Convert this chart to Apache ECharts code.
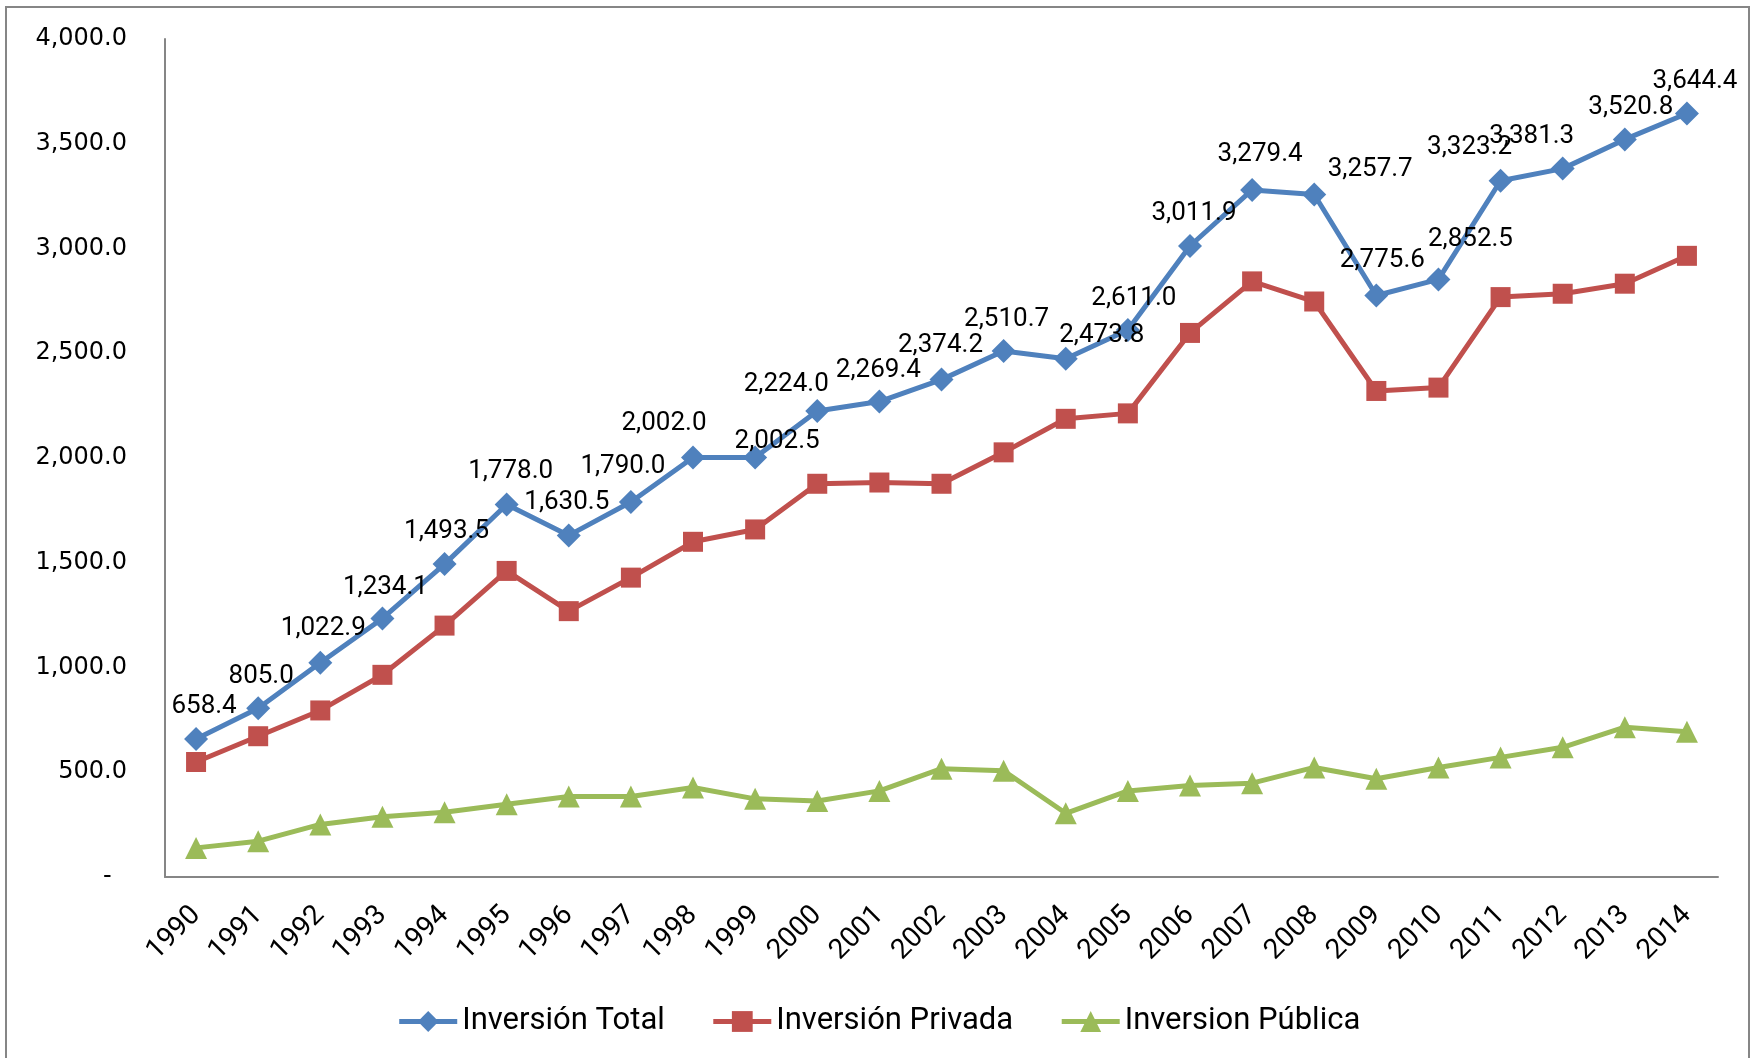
<!DOCTYPE html>
<html>
<head>
<meta charset="utf-8">
<title>Inversión 1990-2014</title>
<script src="https://cdn.jsdelivr.net/npm/echarts@6/dist/echarts.min.js"></script>
<style>
  html, body { margin: 0; padding: 0; background: #fff; }
  #chart { width: 1757px; height: 1058px; }
</style>
</head>
<body>
<div id="chart"></div>
<script>
// años
const years = ['1990', '1991', '1992', '1993', '1994', '1995', '1996', '1997', '1998', '1999',
  '2000', '2001', '2002', '2003', '2004', '2005', '2006', '2007', '2008', '2009',
  '2010', '2011', '2012', '2013', '2014']

// series
const inversionTotal = [658.4, 805.0, 1022.9, 1234.1, 1493.5, 1778.0, 1630.5, 1790.0, 2002.0, 2002.5,
  2224.0, 2269.4, 2374.2, 2510.7, 2473.8, 2611.0, 3011.9, 3279.4, 3257.7, 2775.6,
  2852.5, 3323.2, 3381.3, 3520.8, 3644.4]
const inversionPrivada = [549, 672, 795, 965, 1200, 1461, 1269, 1429, 1600, 1659,
  1877, 1883, 1877, 2027, 2187, 2213, 2597, 2843, 2747, 2320,
  2336, 2768, 2784, 2832, 2965]
const inversionPublica = [139, 171, 251, 288, 309, 347, 384, 384, 427, 373,
  363, 411, 517, 507, 304, 411, 437, 448, 523, 469,
  523, 571, 619, 715, 693]

// ticks del eje y
const yTicks = [0, 500, 1000, 1500, 2000, 2500, 3000, 3500, 4000]

// desplazamiento de las etiquetas (px) como en el original
const labelShift = [[8, 0], [3, 1], [3, -1], [3, 2], [2, 0], [4, 0], [-2, 0], [-8, -2], [-29, -1], [22, 17],
  [-31, 6], [-1, 2], [-1, -1], [3, 1], [36, 10], [6, 2], [4, 0], [8, -2], [56, 8], [6, -2],
  [32, -7], [-31, 0], [-31, 1], [6, 1], [8, 1]]

const labelFont = "Roboto, 'Liberation Sans Narrow', sans-serif"

// formato 1,234.5
const fmt = (v) => {
  const parts = v.toFixed(1).split('.')
  parts[0] = parts[0].replace(/\B(?=(\d{3})+(?!\d))/g, ',')
  return parts.join('.')
}

const chart = echarts.init(document.getElementById('chart'))

const option = {
  backgroundColor: '#fff',
  animation: false,
  graphic: [{
    type: 'rect',
    shape: { x: 6, y: 7, width: 1743, height: 1070 },
    style: { fill: 'none', stroke: '#868686', lineWidth: 2 },
    silent: true
  }],
  grid: { left: 165, right: 39, top: 39, bottom: 181 },
  legend: {
    bottom: 16,
    left: 'center',
    itemWidth: 58,
    itemHeight: 26,
    itemGap: 46,
    lineStyle: { width: 5 },
    textStyle: { fontFamily: labelFont, fontSize: 31, color: '#000' },
    data: ['Inversión Total', 'Inversión Privada', 'Inversion Pública']
  },
  xAxis: {
    type: 'category',
    data: years,
    axisLine: { lineStyle: { color: '#868686', width: 2 } },
    axisTick: { show: false },
    axisLabel: {
      rotate: 45,
      margin: 34,
      fontFamily: labelFont,
      fontSize: 28,
      color: '#000'
    }
  },
  yAxis: {
    type: 'value',
    min: yTicks[0],
    max: yTicks[yTicks.length - 1],
    interval: 500,
    splitLine: { show: false },
    axisLine: { show: true, lineStyle: { color: '#868686', width: 2 } },
    axisTick: { show: false },
    axisLabel: {
      margin: 38,
      fontFamily: "'DejaVu Sans', sans-serif",
      fontSize: 24,
      color: '#000',
      formatter: (v) => v === 0 ? '-  ' : fmt(v)
    }
  },
  series: [
    {
      name: 'Inversión Total',
      type: 'line',
      data: inversionTotal.map((v, i) => ({ value: v, label: { offset: labelShift[i] } })),
      symbol: 'diamond',
      symbolSize: 24,
      z: 4,
      lineStyle: { color: '#4F81BD', width: 5 },
      itemStyle: { color: '#4F81BD' },
      label: {
        show: true,
        position: 'top',
        distance: 8,
        fontFamily: labelFont,
        fontSize: 26,
        color: '#000',
        formatter: (p) => fmt(p.value)
      }
    },
    {
      name: 'Inversión Privada',
      type: 'line',
      data: inversionPrivada,
      symbol: 'rect',
      symbolSize: 20,
      z: 3,
      lineStyle: { color: '#C0504D', width: 5 },
      itemStyle: { color: '#C0504D' }
    },
    {
      name: 'Inversion Pública',
      type: 'line',
      data: inversionPublica,
      symbol: 'triangle',
      symbolSize: 22,
      z: 2,
      lineStyle: { color: '#9BBB59', width: 5 },
      itemStyle: { color: '#9BBB59' }
    }
  ]
}

chart.setOption(option)
window.addEventListener('resize', function () {
  chart.resize()
})
</script>
</body>
</html>
